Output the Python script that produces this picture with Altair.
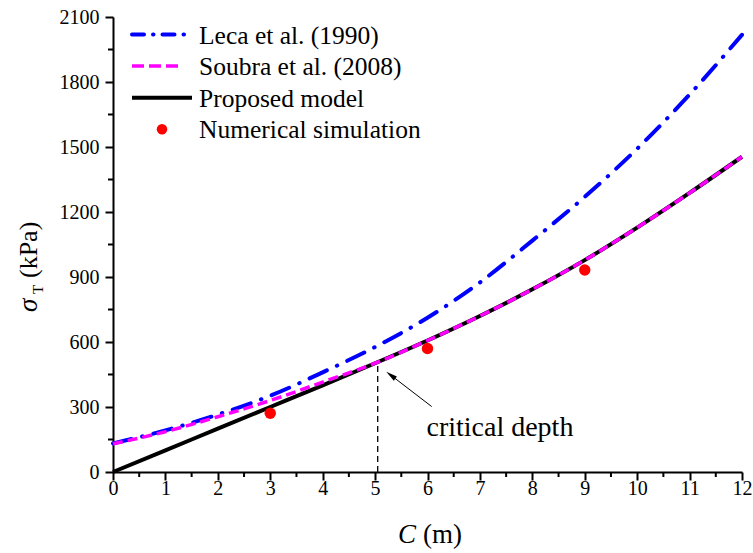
import altair as alt
import pandas as pd

# ---------------- data ----------------
C_vals = [0, 1, 2, 3, 4, 5, 6, 7, 8, 9, 10, 11, 12]
leca = [132, 192, 265, 352, 460, 577, 712, 875, 1068, 1270, 1492, 1742, 2018]
soubra = [130, 186, 255, 330, 415, 502, 607, 720, 843, 978, 1128, 1288, 1455]
proposed = [0, 100, 200, 300, 400, 502, 607, 720, 843, 978, 1128, 1288, 1455]
num_C = [3, 6, 9]
num_sigma = [271, 570, 932]

x_ticks = list(range(0, 13))
x_minor = [i + 0.5 for i in range(12)]
y_ticks = list(range(0, 2101, 300))
y_minor = list(range(150, 2100, 300))

crit_C = [5.05]
crit_sigma = [505]
crit_label = ["critical depth"]
crit_label_pos = [5.98, 168]
arrow_tail = [6.08, 302]
arrow_head = [5.30, 447]

legend_labels = ["Leca et al. (1990)", "Soubra et al. (2008)", "Proposed model", "Numerical simulation"]
legend_colors = ["#0000ff", "#ff00ff", "#000000", "#ff0000"]

FONT = "Liberation Serif"
W, H = 629, 455
PAD_L, PAD_T = 113, 17

xs = alt.Scale(domain=[0, 12], nice=False, zero=True)
ys = alt.Scale(domain=[0, 2100], nice=False, zero=True)
x_axis = alt.Axis(values=x_ticks, title=None, format="d", labelPadding=-2, labelFlush=False,
                  labelFont=FONT, labelFontSize=20)
y_axis = alt.Axis(values=y_ticks, title=None, format="d", labelPadding=6,
                  labelFont=FONT, labelFontSize=20)

X = lambda f="C": alt.X(f"{f}:Q", scale=xs, axis=x_axis)
Y = lambda f="s": alt.Y(f"{f}:Q", scale=ys, axis=y_axis)

df_leca = pd.DataFrame({"C": C_vals, "s": leca})
df_soubra = pd.DataFrame({"C": C_vals, "s": soubra})
df_prop = pd.DataFrame({"C": C_vals, "s": proposed})
df_num = pd.DataFrame({"C": num_C, "s": num_sigma})

blue = alt.Chart(df_leca).mark_line(
    color=legend_colors[0], strokeWidth=4, strokeDash=[19, 11, 0.5, 11],
    strokeCap="round", interpolate="monotone"
).encode(x=X(), y=Y())

black = alt.Chart(df_prop).mark_line(
    color=legend_colors[2], strokeWidth=4, interpolate="monotone"
).encode(x=X(), y=Y())

magenta = alt.Chart(df_soubra).mark_line(
    color=legend_colors[1], strokeWidth=3.5, strokeDash=[10, 5], interpolate="monotone"
).encode(x=X(), y=Y())

points = alt.Chart(df_num).mark_point(
    filled=True, color=legend_colors[3], size=130, opacity=1, shape="circle"
).encode(x=X(), y=Y())

# minor ticks
df_xm = pd.DataFrame({"C": x_minor})
df_ym = pd.DataFrame({"s": y_minor})
xminor = alt.Chart(df_xm).mark_rule(color="black", strokeWidth=2).encode(
    x=X(), y=alt.value(H), y2=alt.value(H + 5))
yminor = alt.Chart(df_ym).mark_rule(color="black", strokeWidth=2).encode(
    y=Y(), x=alt.value(0), x2=alt.value(-5))

# critical depth annotation
df_crit = pd.DataFrame({"C": crit_C, "s0": [0], "s": crit_sigma})
crit_line = alt.Chart(df_crit).mark_rule(color="black", strokeWidth=1.3, strokeDash=[6, 4]).encode(
    x=X(), y=Y("s0"), y2="s:Q")
df_arrow = pd.DataFrame({"C": [arrow_tail[0]], "s": [arrow_tail[1]],
                         "C2": [arrow_head[0]], "s2": [arrow_head[1]]})
arrow_line = alt.Chart(df_arrow).mark_rule(color="black", strokeWidth=1).encode(
    x=X(), y=Y(), x2="C2:Q", y2="s2:Q")
df_head = pd.DataFrame({"C": [arrow_head[0]], "s": [arrow_head[1]]})
arrow_hd = alt.Chart(df_head).mark_point(
    shape="M0,-1L0.45,1L-0.45,1Z", filled=True, color="black", size=130, angle=307, opacity=1
).encode(x=X(), y=Y())
df_ctext = pd.DataFrame({"C": [crit_label_pos[0]], "s": [crit_label_pos[1]], "t": crit_label})
crit_text = alt.Chart(df_ctext).mark_text(
    font=FONT, fontSize=28, align="left", baseline="alphabetic", color="black"
).encode(x=X(), y=Y(), text="t:N")

# axis titles (italic symbol + unit)
def txt(t, x, y, size, style="normal", angle=0):
    return alt.Chart(pd.DataFrame({"t": [t]})).mark_text(
        font=FONT, fontSize=size, fontStyle=style, align="left", baseline="alphabetic",
        color="black", angle=angle
    ).encode(x=alt.value(x), y=alt.value(y), text="t:N")

xt1 = txt("C", 398 - PAD_L, 543 - PAD_T, 27, "italic")
xt2 = txt("(m)", 423 - PAD_L, 543 - PAD_T, 27)
yt1 = txt("σ", 37 - PAD_L, 312 - PAD_T, 27, "italic", 270)
yt2 = txt("T", 43 - PAD_L, 294 - PAD_T, 15, "normal", 270)
yt3 = txt("(kPa)", 37 - PAD_L, 278 - PAD_T, 26, "normal", 270)

# legend (inside plot, top-left)
leg_layers = []
row_y = [34.5 - PAD_T + i * 31.6 for i in range(4)]
x0, x1, xt = 132 - PAD_L, 192 - PAD_L, 199 - PAD_L
dashes = [[12, 9, 0.5, 9], [12, 5], None, None]
ends = [x1, 180 - PAD_L, x1, None]
for i, lab in enumerate(legend_labels):
    d = pd.DataFrame({"t": [lab]})
    if i < 3:
        kw = dict(color=legend_colors[i], strokeWidth=4 if i != 1 else 3.5)
        if dashes[i]:
            kw["strokeDash"] = dashes[i]
        if i == 0:
            kw["strokeCap"] = "round"
        leg_layers.append(alt.Chart(d).mark_rule(**kw).encode(
            x=alt.value(x0), x2=alt.value(ends[i]), y=alt.value(row_y[i])))
    else:
        leg_layers.append(alt.Chart(d).mark_point(
            filled=True, color=legend_colors[i], size=110, opacity=1).encode(
            x=alt.value((x0 + x1) / 2), y=alt.value(row_y[i])))
    leg_layers.append(alt.Chart(d).mark_text(
        font=FONT, fontSize=25.5, align="left", baseline="middle", color="black").encode(
        x=alt.value(xt), y=alt.value(row_y[i] + 1), text="t:N"))

chart = alt.layer(
    blue, black, magenta, points, xminor, yminor, crit_line, arrow_line, arrow_hd, crit_text,
    xt1, xt2, yt1, yt2, yt3, *leg_layers
).properties(
    width=W, height=H,
    padding={"left": PAD_L, "top": PAD_T, "right": 753 - PAD_L - W, "bottom": 553 - PAD_T - H},
    autosize=alt.AutoSizeParams(type="none"),
).configure_view(stroke=None).configure_axis(
    grid=False, domainColor="black", domainWidth=2, tickColor="black", tickWidth=2,
    tickSize=8, labelFont=FONT, labelFontSize=20, labelColor="black"
)

chart.save("out.html", embed_options={"renderer": "svg", "actions": False})
